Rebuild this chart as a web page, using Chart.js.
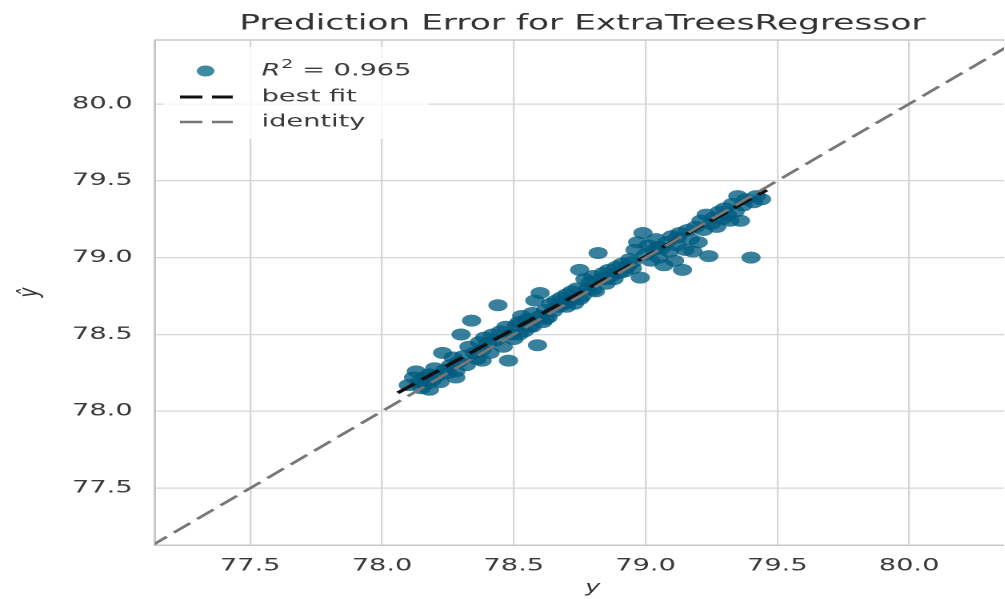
<!DOCTYPE html>
<html>
<head>
<meta charset="utf-8">
<script src="https://cdn.jsdelivr.net/npm/chart.js@4.4.1/dist/chart.umd.min.js"></script>
<style>
  html, body { margin: 0; padding: 0; background: #ffffff; width: 1005px; height: 599px; overflow: hidden; }
  /* the figure is drawn narrow and widened horizontally, like the original wide export */
  #wrap { position: absolute; left: 0; top: 0; width: 626.5px; height: 599px; overflow: hidden; transform: scaleX(1.6); transform-origin: 0 0; }
  #chart { display: block; }
</style>
</head>
<body>
<div id="wrap"><canvas id="chart" width="650" height="599"></canvas></div>
<script>
// observed (actual) target values
const actualValues = [
  78.10, 78.12, 78.13, 78.14, 78.15, 78.16, 78.17, 78.18, 78.18, 78.19, 78.20, 78.21, 78.22, 78.23, 78.24,
  78.25, 78.26, 78.27, 78.28, 78.28, 78.29, 78.30, 78.31, 78.32, 78.33, 78.34, 78.35, 78.36, 78.37, 78.38,
  78.38, 78.39, 78.40, 78.41, 78.42, 78.43, 78.44, 78.45, 78.46, 78.47, 78.48, 78.49, 78.50, 78.51, 78.52,
  78.52, 78.53, 78.54, 78.55, 78.56, 78.57, 78.57, 78.58, 78.59, 78.60, 78.60, 78.61, 78.62, 78.62, 78.63,
  78.64, 78.65, 78.66, 78.67, 78.68, 78.69, 78.70, 78.70, 78.71, 78.72, 78.73, 78.74, 78.75, 78.75, 78.76,
  78.77, 78.78, 78.79, 78.80, 78.80, 78.81, 78.82, 78.83, 78.84, 78.85, 78.85, 78.86, 78.87, 78.88, 78.89,
  78.90, 78.91, 78.92, 78.93, 78.94, 78.95, 78.95, 78.96, 78.97, 78.98, 78.99, 79.00, 79.01, 79.02, 79.03,
  79.04, 79.05, 79.05, 79.06, 79.07, 79.08, 79.09, 79.10, 79.11, 79.12, 79.12, 79.13, 79.14, 79.15, 79.16,
  79.17, 79.18, 79.19, 79.20, 79.21, 79.22, 79.23, 79.24, 79.25, 79.26, 79.27, 79.28, 79.29, 79.30, 79.31,
  79.32, 79.33, 79.34, 79.35, 79.36, 79.37, 79.38, 79.40, 79.41, 79.42, 79.44
];
// model predictions for the same rows
const predictedValues = [
  78.17, 78.22, 78.26, 78.19, 78.15, 78.22, 78.18, 78.24, 78.14, 78.20, 78.28, 78.23, 78.19, 78.38, 78.27,
  78.25, 78.30, 78.35, 78.26, 78.22, 78.32, 78.50, 78.36, 78.30, 78.42, 78.59, 78.38, 78.34, 78.45, 78.40,
  78.33, 78.48, 78.44, 78.38, 78.50, 78.46, 78.69, 78.52, 78.42, 78.55, 78.33, 78.50, 78.47, 78.56, 78.58,
  78.50, 78.62, 78.52, 78.60, 78.55, 78.64, 78.55, 78.72, 78.43, 78.77, 78.62, 78.58, 78.66, 78.60, 78.61,
  78.70, 78.65, 78.72, 78.68, 78.74, 78.70, 78.76, 78.68, 78.72, 78.78, 78.70, 78.80, 78.92, 78.73, 78.75,
  78.86, 78.80, 78.84, 78.88, 78.79, 78.78, 79.03, 78.86, 78.90, 78.83, 78.86, 78.92, 78.88, 78.86, 78.94,
  78.90, 78.96, 78.91, 78.94, 78.99, 78.93, 78.97, 79.05, 79.10, 78.87, 79.16, 79.02, 79.08, 78.98, 79.05,
  79.12, 79.00, 79.07, 79.06, 78.95, 79.10, 79.04, 79.14, 78.98, 79.08, 79.13, 79.16, 78.92, 79.05, 79.18,
  79.12, 79.04, 79.20, 79.10, 79.24, 79.18, 79.28, 79.01, 79.22, 79.26, 79.20, 79.30, 79.25, 79.32, 79.28,
  79.24, 79.35, 79.30, 79.40, 79.24, 79.34, 79.38, 79.00, 79.36, 79.40, 79.38
];
const r2Score = 0.965;
// fitted line end points (actual, predicted)
const bestFitX = [78.06, 79.46];
const bestFitY = [78.12, 79.44];
// identity line y = x, long enough to cross the whole plot
const identityEnds = [76.5, 81.0];
// axis limits and ticks
const xLimits = [77.139, 80.46];
const yLimits = [77.13, 80.416];
const tickStep = 0.5;
const chartTitle = 'Prediction Error for ExtraTreesRegressor';
const xAxisLabel = 'y';
const yAxisLabel = 'ŷ';

const pointColor = 'rgba(0, 92, 128, 0.78)';
const pointLegendColor = 'rgba(0, 100, 132, 0.75)';
const textColor = '#3a3a3a';
const gridColor = '#d6d6d6';
const frameColor = '#c8c8c8';
const FONT = '"DejaVu Sans", "Liberation Sans", sans-serif';

const scatterPoints = actualValues.map((v, i) => ({ x: v, y: predictedValues[i] }));
const fitPoints = bestFitX.map((v, i) => ({ x: v, y: bestFitY[i] }));
const identityPoints = identityEnds.map(v => ({ x: v, y: v }));

// title, top frame edge and the in-plot legend
const overlay = {
  id: 'overlay',
  beforeDatasetsDraw(chart) {
    const { ctx, chartArea } = chart;
    ctx.save();
    ctx.strokeStyle = frameColor;
    ctx.lineWidth = 1.5;
    ctx.beginPath();
    ctx.moveTo(chartArea.left, chartArea.top);
    ctx.lineTo(chartArea.right, chartArea.top);
    ctx.stroke();
    ctx.restore();
  },
  afterDraw(chart) {
    const { ctx } = chart;
    ctx.save();
    // title, centred over the visible plot width
    ctx.fillStyle = '#333333';
    ctx.font = '21.5px ' + FONT;
    ctx.textAlign = 'center';
    ctx.textBaseline = 'middle';
    ctx.fillText(chartTitle, 364, 24);

    // legend frame
    const bx = 102, by = 47, bw = 166, bh = 92;
    ctx.fillStyle = 'rgba(255,255,255,0.8)';
    ctx.beginPath();
    ctx.roundRect(bx, by, bw, bh, 3);
    ctx.fill();

    const ds = chart.data.datasets;
    const textX = 163.5;
    const symX0 = 112.5, symX1 = 145.5;
    const rows = [71, 97, 122];

    // scatter entry
    ctx.fillStyle = pointLegendColor;
    ctx.beginPath();
    ctx.arc((symX0 + symX1) / 2 - 0.5, rows[0], 5.5, 0, Math.PI * 2);
    ctx.fill();
    ctx.fillStyle = textColor;
    ctx.textAlign = 'left';
    ctx.textBaseline = 'middle';
    ctx.font = 'italic 17px ' + FONT;
    let tx = textX;
    ctx.fillText('R', tx, rows[0]);
    tx += ctx.measureText('R').width + 0.5;
    ctx.font = '12px ' + FONT;
    ctx.fillText('2', tx, rows[0] - 6);
    tx += ctx.measureText('2').width;
    ctx.font = '17px ' + FONT;
    ctx.fillText(' = ' + r2Score.toFixed(3), tx, rows[0]);

    // line entries
    [1, 2].forEach((k, idx) => {
      const d = ds[k];
      const y = rows[idx + 1];
      ctx.strokeStyle = d.borderColor;
      ctx.lineWidth = d.borderWidth;
      ctx.setLineDash(d.borderDash);
      ctx.beginPath();
      ctx.moveTo(symX0, y);
      ctx.lineTo(symX1, y);
      ctx.stroke();
      ctx.setLineDash([]);
      ctx.fillStyle = textColor;
      ctx.font = '17px ' + FONT;
      ctx.fillText(d.label, textX, y);
    });
    ctx.restore();
  }
};

new Chart(document.getElementById('chart'), {
  type: 'scatter',
  data: {
    datasets: [
      {
        label: 'R² = ' + r2Score.toFixed(3),
        data: scatterPoints,
        pointRadius: 6,
        pointHoverRadius: 6,
        pointBackgroundColor: pointColor,
        pointBorderWidth: 0,
        order: 3
      },
      {
        label: 'best fit',
        data: fitPoints,
        showLine: true,
        pointRadius: 0,
        borderColor: '#111111',
        borderWidth: 3,
        borderDash: [14, 6],
        order: 2,
        clip: 0
      },
      {
        label: 'identity',
        data: identityPoints,
        showLine: true,
        pointRadius: 0,
        borderColor: '#777777',
        borderWidth: 2.4,
        borderDash: [14, 6],
        order: 1,
        clip: 0
      }
    ]
  },
  options: {
    responsive: false,
    devicePixelRatio: 2,
    animation: false,
    layout: { padding: { top: 40, right: 0, bottom: 0, left: 0 } },
    plugins: {
      legend: { display: false },
      title: { display: false },
      tooltip: { enabled: false }
    },
    scales: {
      x: {
        type: 'linear',
        min: xLimits[0],
        max: xLimits[1],
        afterFit(scale) { scale.height = 54; },
        ticks: {
          stepSize: tickStep,
          includeBounds: false,
          padding: 11,
          color: textColor,
          font: { family: FONT, size: 17 },
          callback: v => v.toFixed(1),
          maxRotation: 0
        },
        grid: { color: gridColor, lineWidth: 1.2, drawTicks: false },
        border: { display: true, color: frameColor, width: 1.5 },
        title: {
          display: true,
          text: xAxisLabel,
          color: '#333333',
          font: { family: FONT, size: 16, style: 'italic' },
          padding: { top: 2, bottom: 1.4 }
        }
      },
      y: {
        type: 'linear',
        min: yLimits[0],
        max: yLimits[1],
        afterFit(scale) { scale.width = 96.9; },
        ticks: {
          stepSize: tickStep,
          includeBounds: false,
          padding: 14,
          color: textColor,
          font: { family: FONT, size: 17 },
          callback: v => v.toFixed(1)
        },
        grid: { color: gridColor, lineWidth: 1.2, drawTicks: false },
        border: { display: true, color: frameColor, width: 1.5 },
        title: {
          display: true,
          text: yAxisLabel,
          color: '#333333',
          font: { family: FONT, size: 17, style: 'italic' },
          padding: { top: 9, bottom: 0 }
        }
      }
    }
  },
  plugins: [overlay]
});
</script>
</body>
</html>
